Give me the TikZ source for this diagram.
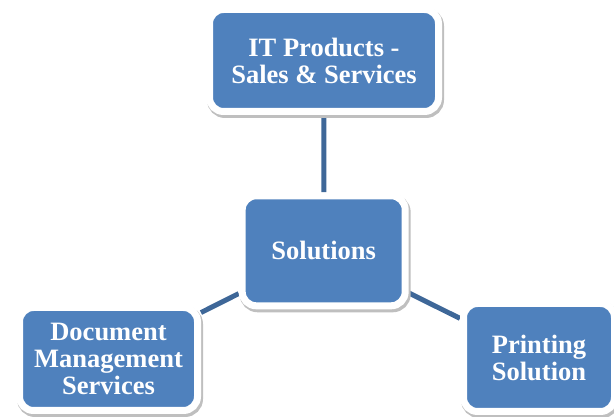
\documentclass[tikz,border=0pt]{standalone}
\usepackage{fontspec}
\setmainfont{Liberation Serif}
\usetikzlibrary{backgrounds}
\definecolor{boxblue}{RGB}{79,129,189}
\definecolor{linkblue}{RGB}{62,103,152}

\begin{document}
\begin{tikzpicture}[x=1pt,y=1pt,
		solbox/.style={rectangle,rounded corners=14pt,fill=boxblue,draw=white,
			line width=7pt,text=white,align=center,inner sep=0pt,
			font=\fontsize{26.5}{27}\selectfont\bfseries,
			preaction={draw=black!25,line width=8pt,
				transform canvas={shift={(1.5pt,-2.5pt)}}}},
		link/.style={draw=linkblue,line width=5pt}]
	\useasboundingbox (0,0) rectangle (614,417);

	\node[solbox,minimum width=229pt,minimum height=102pt] (itp) at (324,356.5)
		{IT Products -\\Sales \& Services};
	\node[solbox,minimum width=163pt,minimum height=110pt] (sol) at (323.7,166.2)
		{Solutions};
	\node[solbox,minimum width=178pt,minimum height=103pt] (doc) at (108.5,58)
		{Document\\Management\\Services};
	\node[solbox,minimum width=151pt,minimum height=108pt] (prn) at (539,59.5)
		{Printing\\Solution};

	\begin{scope}[on background layer]
		\draw[link] (itp) -- (sol);
		\draw[link] (sol) -- (doc);
		\draw[link] (sol) -- (prn);
	\end{scope}
\end{tikzpicture}
\end{document}
